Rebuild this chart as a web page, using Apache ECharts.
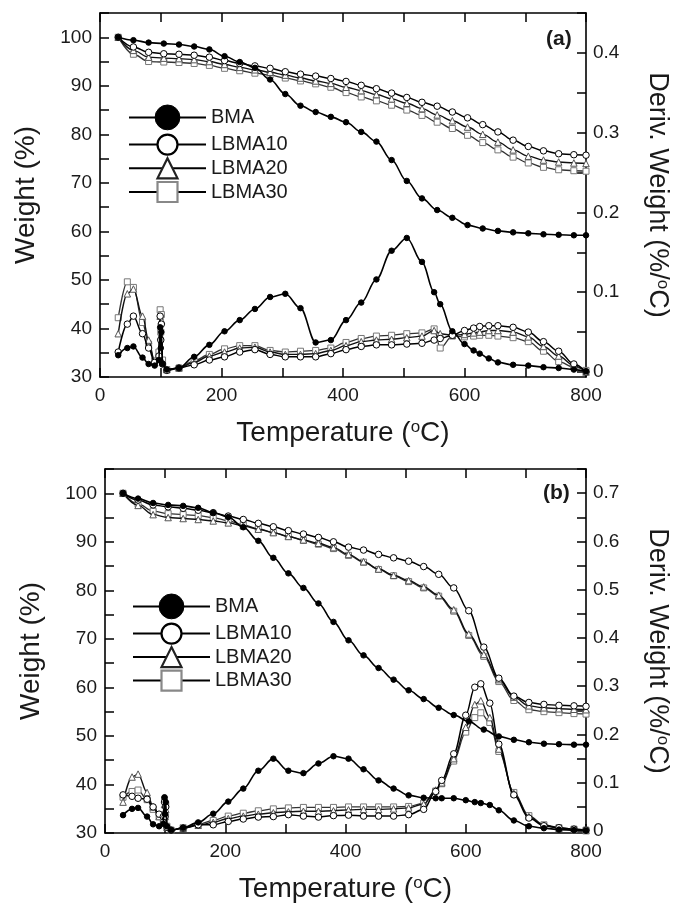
<!DOCTYPE html>
<html>
<head>
<meta charset="utf-8">
<script src="https://cdn.jsdelivr.net/npm/echarts@6/dist/echarts.min.js"></script>
<style>
html,body{margin:0;padding:0;background:#fff;}
#c{width:679px;height:909px;}
</style>
</head>
<body>
<div id="c"></div>
<script>
// ---------- data ----------
const seriesNames = ['BMA', 'LBMA10', 'LBMA20', 'LBMA30'];
const xTicks = [0, 200, 400, 600, 800];
const weightTicks = [30, 40, 50, 60, 70, 80, 90, 100];
const derivTicksA = [0, 0.1, 0.2, 0.3, 0.4];
const derivTicksB = [0, 0.1, 0.2, 0.3, 0.4, 0.5, 0.6, 0.7];

// temperature grid of the weight (TGA) curves
const tgaT = [30, 55, 80, 105, 130, 155, 180, 205, 230, 255, 280, 305, 330, 355, 380, 405, 430, 455, 480, 505, 530, 555, 580, 605, 630, 655, 680, 705, 730, 755, 780, 800];
// temperature grid of the derivative (DTG) curves
const dtgT = [30, 45, 55, 70, 80, 90, 97, 99, 100, 101, 103, 110, 130, 155, 180, 205, 230, 255, 280, 305, 330, 355, 380, 405, 430, 455, 480, 505, 530, 550, 560, 580, 600, 615, 625, 640, 655, 680, 705, 730, 755, 780, 800];

// panel (a) weight %
const a_tga_BMA    = [100, 99.4, 98.9, 98.7, 98.5, 98.1, 97.5, 96.1, 94.9, 93.7, 91.3, 88.3, 85.9, 84.6, 83.6, 82.5, 80.5, 78.5, 74.7, 70.4, 66.8, 64.4, 62.8, 61.3, 60.6, 60.1, 59.8, 59.6, 59.4, 59.3, 59.2, 59.2];
const a_tga_LBMA10 = [100, 98.0, 96.9, 96.6, 96.5, 96.3, 95.9, 95.2, 94.6, 94.1, 93.6, 92.9, 92.4, 92.0, 91.5, 90.9, 90.1, 89.4, 88.5, 87.6, 86.6, 85.8, 84.6, 83.4, 82.0, 80.5, 78.8, 77.5, 76.6, 76.0, 75.8, 75.7];
const a_tga_LBMA20 = [100, 97.3, 95.9, 95.7, 95.6, 95.4, 95.0, 94.4, 93.8, 93.3, 92.8, 92.2, 91.6, 91.0, 90.5, 89.7, 89.0, 88.2, 87.3, 86.4, 85.3, 84.0, 82.8, 81.5, 80.0, 78.4, 76.8, 75.5, 74.7, 74.3, 74.1, 74.0];
const a_tga_LBMA30 = [100, 96.5, 95.0, 94.9, 94.8, 94.6, 94.2, 93.6, 93.1, 92.6, 92.2, 91.6, 91.0, 90.4, 89.7, 88.6, 87.7, 86.9, 86.0, 85.0, 83.9, 82.5, 81.2, 79.8, 78.3, 76.8, 75.3, 74.1, 73.2, 72.7, 72.5, 72.4];

// panel (a) derivative weight %/°C
const a_dtg_BMA    = [0.021, 0.030, 0.032, 0.018, 0.010, 0.008, 0.015, 0.056, 0.030, 0.050, 0.010, 0.003, 0.005, 0.019, 0.034, 0.051, 0.065, 0.079, 0.094, 0.098, 0.080, 0.037, 0.040, 0.065, 0.087, 0.116, 0.152, 0.168, 0.138, 0.100, 0.085, 0.051, 0.035, 0.027, 0.023, 0.017, 0.012, 0.009, 0.008, 0.006, 0.005, 0.003, 0.001];
const a_dtg_LBMA10 = [0.025, 0.060, 0.070, 0.048, 0.030, 0.012, 0.020, 0.070, 0.040, 0.060, 0.010, 0.002, 0.005, 0.009, 0.015, 0.019, 0.025, 0.028, 0.022, 0.019, 0.019, 0.019, 0.023, 0.028, 0.032, 0.034, 0.034, 0.035, 0.036, 0.040, 0.042, 0.046, 0.052, 0.055, 0.057, 0.058, 0.058, 0.056, 0.050, 0.038, 0.026, 0.010, 0.000];
const a_dtg_LBMA20 = [0.048, 0.098, 0.104, 0.070, 0.040, 0.012, 0.020, 0.070, 0.045, 0.065, 0.012, 0.003, 0.005, 0.012, 0.020, 0.025, 0.030, 0.031, 0.025, 0.022, 0.022, 0.023, 0.027, 0.033, 0.038, 0.040, 0.041, 0.043, 0.045, 0.052, 0.048, 0.046, 0.047, 0.049, 0.050, 0.052, 0.052, 0.050, 0.044, 0.032, 0.020, 0.008, 0.000];
const a_dtg_LBMA30 = [0.068, 0.113, 0.106, 0.062, 0.035, 0.014, 0.025, 0.078, 0.050, 0.072, 0.015, 0.003, 0.005, 0.014, 0.022, 0.029, 0.033, 0.033, 0.027, 0.025, 0.026, 0.027, 0.030, 0.037, 0.042, 0.045, 0.046, 0.048, 0.049, 0.054, 0.030, 0.045, 0.044, 0.045, 0.046, 0.046, 0.045, 0.043, 0.038, 0.026, 0.013, 0.006, 0.002];

// panel (b) weight %
const b_tga_BMA    = [100, 98.9, 98.0, 97.6, 97.4, 97.0, 96.0, 95.1, 93.0, 90.2, 86.7, 83.5, 80.5, 77.3, 73.5, 69.7, 66.6, 64.0, 61.6, 59.4, 57.6, 55.8, 54.3, 53.0, 51.3, 49.9, 49.2, 48.7, 48.4, 48.3, 48.2, 48.2];
const b_tga_LBMA10 = [100, 98.6, 97.6, 97.2, 96.9, 96.5, 96.0, 95.3, 94.6, 93.8, 93.1, 92.3, 91.6, 90.9, 90.0, 88.9, 88.3, 87.4, 86.7, 86.0, 84.9, 83.3, 80.5, 75.8, 68.3, 61.9, 58.2, 56.9, 56.5, 56.3, 56.2, 56.1];
const b_tga_LBMA20 = [100, 97.5, 95.6, 95.0, 94.8, 94.6, 94.3, 93.9, 93.3, 92.6, 91.9, 91.1, 90.4, 89.7, 88.8, 87.4, 85.9, 84.4, 83.1, 82.0, 80.7, 79.0, 76.0, 71.0, 66.8, 61.6, 58.0, 56.2, 55.8, 55.6, 55.5, 55.4];
const b_tga_LBMA30 = [100, 97.8, 96.3, 95.8, 95.6, 95.4, 95.0, 94.3, 93.5, 92.7, 91.9, 91.1, 90.3, 89.5, 88.6, 87.2, 85.8, 84.3, 83.0, 81.8, 80.5, 78.8, 75.7, 70.7, 66.4, 61.2, 57.3, 55.4, 55.0, 54.8, 54.6, 54.5];

// panel (b) derivative weight %/°C
const b_dtg_BMA    = [0.033, 0.046, 0.048, 0.030, 0.014, 0.010, 0.015, 0.070, 0.035, 0.060, 0.010, 0.002, 0.007, 0.018, 0.036, 0.061, 0.088, 0.125, 0.150, 0.125, 0.120, 0.140, 0.155, 0.150, 0.128, 0.105, 0.088, 0.074, 0.069, 0.068, 0.068, 0.068, 0.064, 0.060, 0.058, 0.054, 0.043, 0.022, 0.010, 0.006, 0.003, 0.002, 0.001];
const b_dtg_LBMA10 = [0.075, 0.072, 0.068, 0.066, 0.050, 0.035, 0.030, 0.060, 0.030, 0.050, 0.008, 0.002, 0.006, 0.013, 0.013, 0.020, 0.025, 0.029, 0.030, 0.034, 0.031, 0.029, 0.032, 0.033, 0.031, 0.031, 0.031, 0.034, 0.045, 0.082, 0.105, 0.160, 0.240, 0.298, 0.305, 0.265, 0.180, 0.075, 0.027, 0.011, 0.007, 0.004, 0.002];
const b_dtg_LBMA20 = [0.060, 0.112, 0.118, 0.080, 0.050, 0.030, 0.025, 0.055, 0.030, 0.045, 0.008, 0.002, 0.006, 0.012, 0.018, 0.026, 0.031, 0.035, 0.038, 0.040, 0.041, 0.041, 0.042, 0.044, 0.045, 0.045, 0.046, 0.048, 0.056, 0.085, 0.100, 0.150, 0.215, 0.262, 0.270, 0.235, 0.170, 0.078, 0.030, 0.012, 0.006, 0.003, 0.001];
const b_dtg_LBMA30 = [0.070, 0.082, 0.085, 0.065, 0.045, 0.030, 0.025, 0.065, 0.035, 0.055, 0.010, 0.002, 0.007, 0.014, 0.022, 0.031, 0.037, 0.042, 0.046, 0.048, 0.049, 0.049, 0.049, 0.050, 0.050, 0.050, 0.050, 0.051, 0.058, 0.083, 0.098, 0.145, 0.205, 0.235, 0.245, 0.225, 0.165, 0.080, 0.032, 0.013, 0.007, 0.004, 0.002];

// ---------- styles ----------
const FONT = 'Liberation Sans, Arial, sans-serif';
const TXT = '#1a1a1a';
const styles = {
  BMA:    {symbol: 'circle',   size: 5.5, fill: '#000', stroke: '#000', line: '#000', lw: 1.6, z: 5},
  LBMA10: {symbol: 'circle',   size: 6.5, fill: '#fff', stroke: '#000', line: '#000', lw: 1.5, z: 4},
  LBMA20: {symbol: 'triangle', size: 6.5, fill: '#fff', stroke: '#555', line: '#111', lw: 1.4, z: 3},
  LBMA30: {symbol: 'rect',     size: 6,   fill: '#fff', stroke: '#777', line: '#333', lw: 1.3, z: 2}
};

function pairs(T, v) { return T.map((t, i) => [t, v[i]]); }

function mkSeries(name, T, vals, xi, yi) {
  const s = styles[name];
  return {
    type: 'line', name: name, xAxisIndex: xi, yAxisIndex: yi,
    data: pairs(T, vals), smooth: 0.35, smoothMonotone: 'x',
    symbol: s.symbol, symbolSize: s.size, showAllSymbol: true,
    itemStyle: {color: s.fill, borderColor: s.stroke, borderWidth: 1},
    lineStyle: {color: s.line, width: s.lw},
    z: s.z, animation: false
  };
}

const supRich = {
  s: {fontSize: 17, fontFamily: FONT, color: TXT, verticalAlign: 'top', lineHeight: 22}
};

// ticks point into the plot (negative length)
const TICK = {show: true, length: -9, lineStyle: {color: '#000', width: 1.5}};

function xAxes(gi) {
  const common = {
    type: 'value', gridIndex: gi, min: 0, max: 800, interval: 100,
    axisLine: {show: true, onZero: false, lineStyle: {color: '#000', width: 1.6}},
    axisTick: TICK,
    splitLine: {show: false}
  };
  return [
    Object.assign({}, common, {
      position: 'bottom',
      axisLabel: {show: true, margin: 9, fontSize: 19, fontFamily: FONT, color: TXT,
        formatter: v => xTicks.indexOf(v) >= 0 ? String(v) : ''},
      name: 'Temperature ({s|o}C)', nameLocation: 'middle', nameGap: 42,
      nameTextStyle: {fontSize: 28, fontFamily: FONT, color: TXT, rich: supRich}
    }),
    Object.assign({}, common, {position: 'top', axisLabel: {show: false}})
  ];
}

function yAxes(gi, dmin, dmax, dTicks) {
  const ticks = [];
  for (let v = 0; v <= dmax + 1e-9; v += 0.05) ticks.push(Math.round(v * 100) / 100);
  return [
    {
      type: 'value', gridIndex: gi, position: 'left', min: 30, max: 105, interval: 5,
      axisLine: {show: true, onZero: false, lineStyle: {color: '#000', width: 1.6}},
      axisTick: TICK,
      axisLabel: {show: true, margin: 8, fontSize: 19, fontFamily: FONT, color: TXT,
        formatter: v => weightTicks.indexOf(v) >= 0 ? String(v) : ''},
      splitLine: {show: false},
      name: 'Weight (%)', nameLocation: 'middle', nameRotate: 90, nameGap: 60,
      nameTextStyle: {fontSize: 28, fontFamily: FONT, color: TXT}
    },
    {
      type: 'value', gridIndex: gi, position: 'right', min: dmin, max: dmax,
      axisLine: {show: true, onZero: false, lineStyle: {color: '#000', width: 1.6}},
      axisTick: Object.assign({}, TICK, {customValues: ticks}),
      axisLabel: {show: true, margin: 7, fontSize: 19, fontFamily: FONT, color: TXT,
        customValues: dTicks, formatter: v => String(Math.round(v * 10) / 10)},
      splitLine: {show: false},
      name: 'Deriv. Weight (%/{s|o}C)', nameLocation: 'middle', nameRotate: -90, nameGap: 58,
      nameTextStyle: {fontSize: 27, fontFamily: FONT, color: TXT, rich: supRich}
    }
  ];
}

const series = [];
[['LBMA30', a_tga_LBMA30, a_dtg_LBMA30, b_tga_LBMA30, b_dtg_LBMA30],
 ['LBMA20', a_tga_LBMA20, a_dtg_LBMA20, b_tga_LBMA20, b_dtg_LBMA20],
 ['LBMA10', a_tga_LBMA10, a_dtg_LBMA10, b_tga_LBMA10, b_dtg_LBMA10],
 ['BMA',    a_tga_BMA,    a_dtg_BMA,    b_tga_BMA,    b_dtg_BMA]].forEach(r => {
  series.push(mkSeries(r[0], tgaT, r[1], 0, 0));
  series.push(mkSeries(r[0], dtgT, r[2], 0, 1));
  series.push(mkSeries(r[0], tgaT, r[3], 2, 2));
  series.push(mkSeries(r[0], dtgT, r[4], 2, 3));
});

function legends(left, topBig, topSmall, gap) {
  const base = {
    orient: 'vertical', left: left, padding: 0, itemWidth: 77,
    selectedMode: false, itemGap: gap,
    textStyle: {fontSize: 20, fontFamily: FONT, color: TXT, padding: [0, 0, 0, 0]},
    lineStyle: {width: 2, color: '#000'},
    itemStyle: {borderWidth: 2.2}
  };
  return [
    Object.assign({}, base, {top: topBig, itemHeight: 31, data: ['BMA'],
      itemStyle: {borderWidth: 1, color: '#000', borderColor: '#000'}}),
    Object.assign({}, base, {top: topSmall, itemHeight: 25, data: [
      {name: 'LBMA10', itemStyle: {borderColor: '#000', color: '#fff'}},
      {name: 'LBMA20', itemStyle: {borderColor: '#222', color: '#fff'}},
      {name: 'LBMA30', itemStyle: {borderColor: '#888', color: '#fff'}}
    ]})
  ];
}

const option = {
  backgroundColor: '#fff',
  animation: false,
  grid: [
    {left: 100, top: 13, width: 488, height: 364},
    {left: 105, top: 469, width: 486, height: 364}
  ],
  xAxis: xAxes(0).concat(xAxes(1)),
  yAxis: yAxes(0, -0.0063, 0.45, derivTicksA).concat(yAxes(1, -0.004, 0.75, derivTicksB)),
  legend: legends(128, 104.5, 133.5, 1.5).concat(legends(132, 593.5, 622.5, 1.3)),
  graphic: [
    {type: 'text', left: 546, top: 29, style: {text: '(a)', fontSize: 21, fontWeight: 'bold', fontFamily: FONT, fill: TXT}},
    {type: 'text', left: 543, top: 483, style: {text: '(b)', fontSize: 21, fontWeight: 'bold', fontFamily: FONT, fill: TXT}}
  ],
  series: series
};

const chart = echarts.init(document.getElementById('c'), null, {renderer: 'canvas'});
chart.setOption(option);
</script>
</body>
</html>
